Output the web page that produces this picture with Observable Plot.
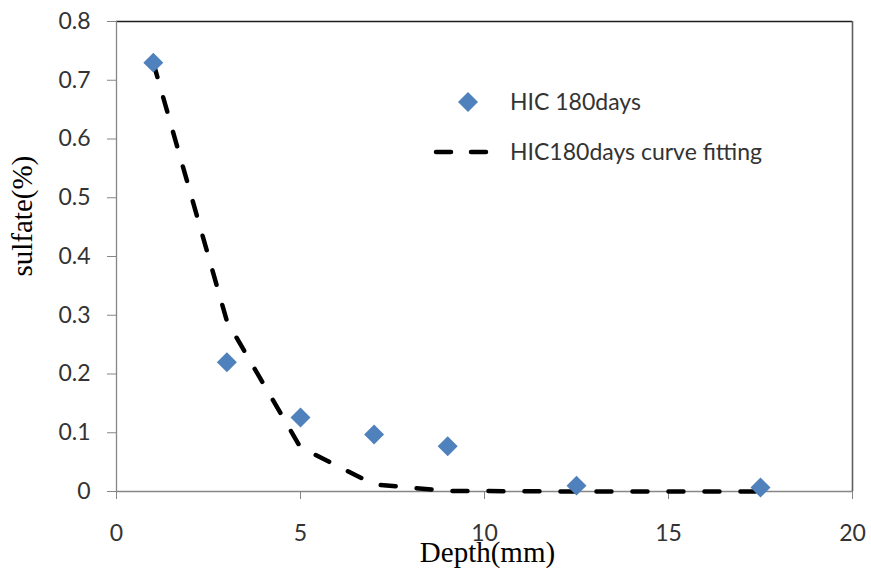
<!DOCTYPE html>
<html>
<head>
<meta charset="utf-8">
<script src="https://cdn.jsdelivr.net/npm/d3@7"></script>
<script src="https://cdn.jsdelivr.net/npm/@observablehq/plot@0.6"></script>
<style>
  html, body { margin: 0; padding: 0; background: #fff; }
  #wrap { position: relative; width: 871px; height: 568px; }
  .leg { position: absolute; font-family: Lato, "Open Sans", sans-serif; font-size: 23px; color: #333; white-space: nowrap; line-height: 1; }
</style>
</head>
<body>
<div id="wrap"></div>
<script>
// Measured data (HIC 180 days)
const depth = [1, 3, 5, 7, 9, 12.5, 17.5];
const sulfate = [0.73, 0.22, 0.126, 0.097, 0.077, 0.01, 0.007];
// Curve fitting values
const fitDepth = [1, 3, 5, 7, 9, 12.5, 17.5];
const fitSulfate = [0.73, 0.29, 0.075, 0.012, 0.001, 0, 0];
// Ticks
const xTicks = [0, 5, 10, 15, 20];
const yTicks = [0, 0.1, 0.2, 0.3, 0.4, 0.5, 0.6, 0.7, 0.8];
const seriesNames = ["HIC 180days", "HIC180days curve fitting"];

const points = depth.map((d, i) => ({depth: d, sulfate: sulfate[i]}));
const fit = fitDepth.map((d, i) => ({depth: d, sulfate: fitSulfate[i]}));

const axisGray = "#868686";
const textColor = "#333";
const blue = "#4F81BD";

const chart = Plot.plot({
  width: 871,
  height: 568,
  marginLeft: 116,
  marginRight: 19,
  marginTop: 21,
  marginBottom: 77,
  style: {background: "#fff", overflow: "visible"},
  x: {domain: [0, 20]},
  y: {domain: [0, 0.8]},
  marks: [
    Plot.ruleY([0.8], {stroke: "#1e1e1e", strokeWidth: 1.3}),
    Plot.ruleX([20], {stroke: "#5e5e5e", strokeWidth: 1.6}),
    Plot.ruleX([0], {stroke: axisGray, strokeWidth: 1.3}),
    Plot.ruleY([0], {stroke: axisGray, strokeWidth: 1.3}),
    Plot.axisX({ticks: xTicks, tickSize: 8, tickPadding: 25, tickFormat: d => String(d),
      stroke: axisGray, fill: textColor, fontSize: 23, fontFamily: "Lato, 'Open Sans', sans-serif", label: null}),
    Plot.axisY({ticks: yTicks, tickSize: 9, tickPadding: 17, tickFormat: d => String(d),
      stroke: axisGray, fill: textColor, fontSize: 23, fontFamily: "Lato, 'Open Sans', sans-serif", label: null}),
    Plot.line(fit, {x: "depth", y: "sulfate", stroke: "#000", strokeWidth: 4.5,
      strokeDasharray: "15,21", strokeLinecap: "round", curve: "linear"}),
    Plot.dot(points, {x: "depth", y: "sulfate", symbol: "diamond2", r: 9, fill: blue, stroke: "none"}),
    Plot.text(["sulfate(%)"], {frameAnchor: "left", dx: -94, dy: 20, rotate: -90,
      fontFamily: "'Liberation Serif', 'DejaVu Serif', serif", fontSize: 29, fill: "#000", lineAnchor: "middle"}),
    Plot.text(["Depth(mm)"], {frameAnchor: "bottom", dx: 3, dy: 61,
      fontFamily: "'Liberation Serif', 'DejaVu Serif', serif", fontSize: 29, fill: "#000", lineAnchor: "middle"})
  ]
});

const wrap = document.getElementById("wrap");
wrap.appendChild(chart);

// Legend (HTML overlay)
function addLegend(swatchSvg, left, top, text, textLeft) {
  const sw = document.createElement("div");
  sw.style.position = "absolute";
  sw.style.left = left + "px";
  sw.style.top = top + "px";
  sw.innerHTML = swatchSvg;
  wrap.appendChild(sw);
  const t = document.createElement("div");
  t.className = "leg";
  t.textContent = text;
  t.style.left = textLeft + "px";
  t.style.top = (top + 11 - 12) + "px";
  wrap.appendChild(t);
}
addLegend(`<svg width="22" height="22" style="display:block"><path d="M11,1 L21,11 L11,21 L1,11 Z" fill="${blue}"/></svg>`,
  457, 91, seriesNames[0], 510);
addLegend(`<svg width="60" height="22" style="display:block"><line x1="5" y1="11" x2="55" y2="11" stroke="#000" stroke-width="4.5" stroke-linecap="round" stroke-dasharray="15,20"/></svg>`,
  431, 141, seriesNames[1], 510);
</script>
</body>
</html>
